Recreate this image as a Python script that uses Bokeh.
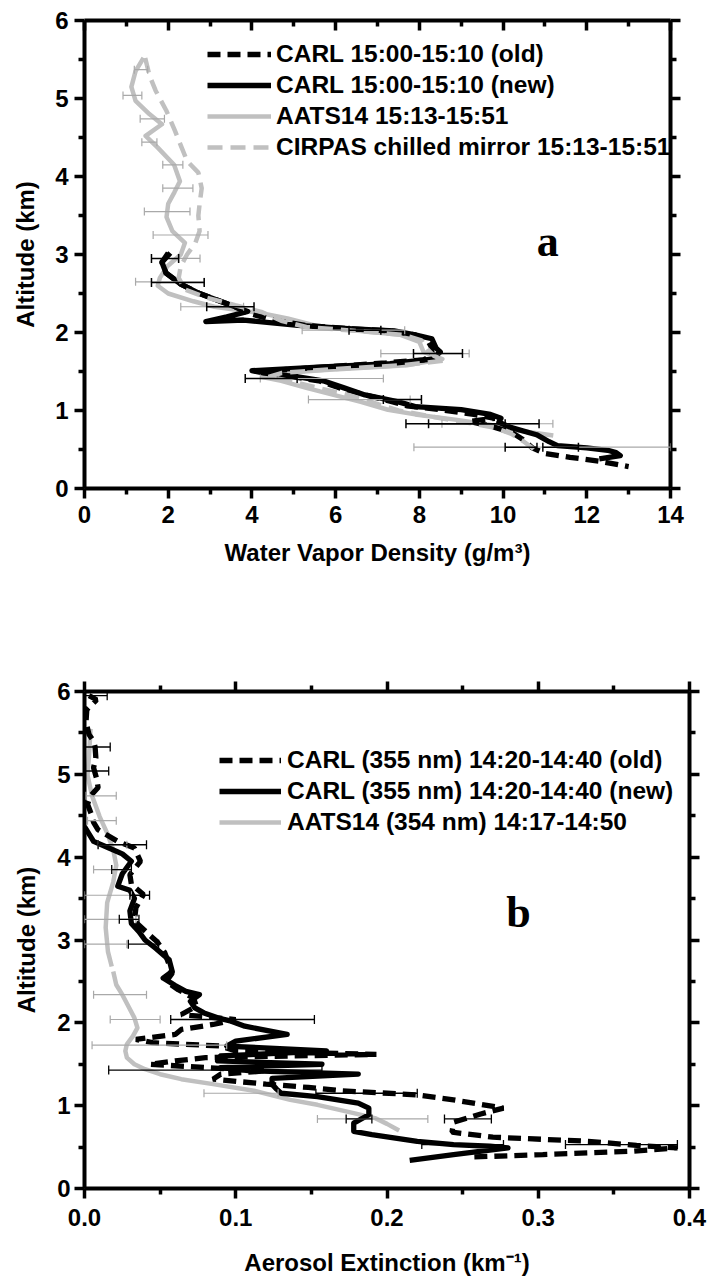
import math
from bokeh.plotting import figure
from bokeh.models import (Range1d, LinearAxis, FixedTicker, NumeralTickFormatter,
                          Whisker, TeeHead, ColumnDataSource, Legend, LegendItem, Label,
                          CustomLabelingPolicy)
from bokeh.layouts import column
from bokeh.embed import file_html
from bokeh.resources import INLINE

NAN = float("nan")
FONT = "Liberation Sans"
SERIF = "Liberation Serif"
GRAY = "#c0c0c0"
EGRAY = "#a9a9a9"

# ---------------- Panel a : water vapor density ----------------
a_old_x = [2.00, 1.85, 1.95, 2.30, 2.75, 3.00, 3.60, 3.90, 4.60, 5.30, 6.30, 7.30, 7.90, 8.20, 8.30,
           8.30, 8.10, 7.20, 5.80, 4.40, 4.50, 5.00, 5.60, 6.10, 6.70, 7.30, 7.70, 8.50, 9.30, 9.80,
           9.20, 9.70, 10.20, 10.50, 10.70, 11.00, 11.60, 12.30, 13.00]
a_old_y = [3.02, 2.90, 2.76, 2.62, 2.50, 2.45, 2.33, 2.25, 2.15, 2.09, 2.05, 2.02, 1.97, 1.90, 1.80,
           1.70, 1.65, 1.61, 1.56, 1.51, 1.47, 1.43, 1.38, 1.29, 1.20, 1.12, 1.06, 1.01, 0.95, 0.90,
           0.86, 0.80, 0.72, 0.62, 0.52, 0.45, 0.40, 0.35, 0.28]

a_new_x = [2.05, 1.85, 1.95, 2.30, 2.75, 3.00, 3.60, 3.90, 3.40, 2.90, 3.80, 5.10, 6.30, 7.40, 7.90,
           8.30, 8.40, 8.50, 8.30, 7.30, 5.70, 4.00, 4.30, 5.10, 5.70, 6.20, 6.70, 7.50, 7.90, 9.00,
           9.70, 9.95, 9.90, 10.20, 10.80, 11.10, 11.30, 12.00, 12.50, 12.70, 12.80, 12.30]
a_new_y = [3.02, 2.90, 2.76, 2.62, 2.50, 2.45, 2.33, 2.27, 2.20, 2.14, 2.16, 2.09, 2.05, 2.02, 1.97,
           1.92, 1.80, 1.75, 1.66, 1.60, 1.56, 1.51, 1.48, 1.43, 1.38, 1.29, 1.20, 1.11, 1.05, 1.01,
           0.95, 0.90, 0.85, 0.78, 0.69, 0.60, 0.55, 0.52, 0.49, 0.46, 0.42, 0.38]

a_aats_x = [1.41, 1.22, 1.12, 1.22, 1.55, 1.85, 1.46, 1.75, 2.14, 2.28, 2.15, 2.00, 1.96, 2.10, 2.40,
            2.30, 1.98, 1.80, 1.75, 2.00, 2.60, 3.10, 4.20, 4.85, 5.50, 6.40, 7.55, 8.00, 8.10, 8.55,
            7.70, 5.75, 4.70, 4.25, 4.70, 5.30, 5.95, 6.60, 7.25, 7.90, 8.90, 9.65, 10.40, 11.20]
a_aats_y = [5.52, 5.35, 5.15, 4.97, 4.80, 4.67, 4.52, 4.37, 4.15, 3.94, 3.80, 3.65, 3.48, 3.30, 3.15,
            3.00, 2.85, 2.70, 2.60, 2.50, 2.40, 2.33, 2.25, 2.18, 2.09, 2.03, 1.97, 1.88, 1.75, 1.66,
            1.58, 1.52, 1.48, 1.43, 1.38, 1.29, 1.20, 1.11, 1.01, 0.95, 0.88, 0.82, 0.74, 0.68]

a_cirpas_x = [1.45, 1.55, 1.70, 1.95, 2.15, 2.30, 2.45, 2.72, 2.80, 2.75, 2.72, 2.75, 2.65, 2.45, 2.30,
              2.25, 2.40, 2.90, 3.60, 4.25, 4.70, 5.30, 6.50, 7.60, 8.05, 8.20, 8.35, 8.60, 7.60, 5.90,
              4.70, 4.40, 4.90, 5.50, 6.30, 6.90, 7.50, 8.30, 9.10, 9.80, 10.20, 10.50, 10.70, 10.80]
a_cirpas_y = [5.52, 5.30, 5.10, 4.85, 4.60, 4.40, 4.20, 4.05, 3.85, 3.65, 3.50, 3.30, 3.15, 3.00, 2.85,
              2.70, 2.55, 2.45, 2.35, 2.26, 2.15, 2.07, 2.02, 1.97, 1.90, 1.78, 1.70, 1.64, 1.58, 1.53,
              1.48, 1.43, 1.38, 1.30, 1.20, 1.10, 1.00, 0.92, 0.85, 0.78, 0.70, 0.60, 0.52, 0.46]

a_err_carl_y = [2.95, 2.64, 2.33, 2.03, 1.73, 1.41, 1.14, 0.83, 0.83, 0.53, 0.53]
a_err_carl_lo = [1.60, 1.60, 2.92, 6.32, 7.86, 3.84, 7.14, 7.68, 8.22, 10.05, 10.95]
a_err_carl_hi = [2.25, 2.86, 4.05, 7.08, 9.03, 5.08, 8.05, 10.86, 10.05, 10.81, 11.80]

a_err_aats_y = [5.37, 5.04, 4.74, 4.44, 4.15, 3.85, 3.55, 3.25, 2.95, 2.65, 2.33, 2.03, 1.73, 1.41,
                1.14, 0.83, 0.53]
a_err_aats_lo = [1.19, 0.92, 1.33, 1.37, 1.87, 1.87, 1.43, 1.64, 2.24, 1.22, 2.30, 5.20, 7.08, 4.20,
                 5.35, 8.54, 7.87]
a_err_aats_hi = [1.51, 1.37, 1.91, 1.73, 2.35, 2.59, 2.52, 2.95, 2.76, 2.86, 3.80, 7.65, 9.19, 7.14,
                 7.78, 11.19, 14.00]

a_labels = ["CARL 15:00-15:10 (old)", "CARL 15:00-15:10 (new)", "AATS14 15:13-15:51",
            "CIRPAS chilled mirror 15:13-15:51"]
a_xticks = [0, 2, 4, 6, 8, 10, 12, 14]
a_xminor = [1, 3, 5, 7, 9, 11, 13]
alt_ticks = [0, 1, 2, 3, 4, 5, 6]
alt_minor = [0.5, 1.5, 2.5, 3.5, 4.5, 5.5]

# ---------------- Panel b : aerosol extinction ----------------
b_aats_x = [0.004, 0.003, 0.002, 0.005, 0.010, 0.015, 0.019, 0.021, 0.019, 0.015, 0.014, 0.0155, 0.018,
            NAN, 0.019, 0.021, 0.025, 0.029, 0.033, 0.035, 0.032, 0.028, 0.027, 0.028, 0.033, 0.040,
            0.050, 0.064, 0.085, 0.112, 0.136, 0.154, 0.178, 0.192, 0.200, 0.208]
b_aats_y = [5.55, 5.23, 4.99, 4.74, 4.49, 4.29, 4.09, 3.90, 3.70, 3.45, 3.15, 2.86, 2.68,
            NAN, 2.62, 2.46, 2.34, 2.20, 2.06, 1.94, 1.84, 1.74, 1.66, 1.58, 1.50, 1.44,
            1.38, 1.32, 1.26, 1.18, 1.07, 1.01, 0.91, 0.85, 0.78, 0.70]

b_new_x = [0.000, 0.006, 0.015, 0.025, 0.031, 0.025, 0.022, 0.030, 0.033, 0.030, 0.031, 0.036, 0.040,
           0.047, 0.056, 0.058, 0.052, 0.060, 0.067, 0.076, 0.070, 0.073, 0.079, 0.088, 0.097, 0.106,
           0.134, 0.100, 0.094, 0.160, 0.090, 0.088, 0.157, 0.090, 0.110, 0.181, 0.124, 0.124, 0.127,
           0.130, 0.154, 0.181, 0.188, 0.188, 0.178, 0.178, 0.190, 0.220, 0.244, 0.268, 0.280, 0.244,
           0.215]
b_new_y = [4.37, 4.19, 4.12, 4.04, 3.95, 3.80, 3.65, 3.60, 3.50, 3.35, 3.20, 3.10, 3.00,
           2.90, 2.76, 2.62, 2.54, 2.45, 2.38, 2.34, 2.26, 2.18, 2.12, 2.06, 2.02, 1.96,
           1.86, 1.78, 1.72, 1.66, 1.60, 1.54, 1.50, 1.46, 1.42, 1.38, 1.33, 1.26, 1.20,
           1.15, 1.11, 1.03, 0.97, 0.89, 0.79, 0.69, 0.65, 0.57, 0.53, 0.51, 0.49, 0.41,
           0.34]

b_old_x = [0.003, 0.008, 0.0015, 0.001, 0.003, 0.006, 0.007, 0.0075, 0.006, 0.008, 0.009, 0.004, 0.002,
           0.0045, 0.006, 0.009, 0.022, 0.033, 0.037, 0.030, 0.031, 0.039, 0.034, 0.033, 0.043, 0.048,
           0.053, 0.056, 0.058, 0.054, 0.062, 0.072, 0.074, 0.064, 0.100, 0.085, 0.064, 0.060, 0.034,
           0.045, 0.090, 0.100, 0.193, 0.080, 0.060, 0.043, 0.080, 0.120, 0.090, 0.085, 0.120, 0.148,
           0.170, 0.220, 0.244, 0.277, 0.262, 0.244, 0.243, 0.270, 0.333, 0.365, 0.392, 0.363, 0.303,
           0.256]
b_old_y = [5.95, 5.90, 5.78, 5.63, 5.48, 5.40, 5.33, 5.20, 5.08, 4.95, 4.84, 4.74, 4.64,
           4.52, 4.42, 4.33, 4.19, 4.11, 3.95, 3.79, 3.67, 3.55, 3.39, 3.23, 3.06, 2.98,
           2.85, 2.70, 2.60, 2.50, 2.40, 2.30, 2.20, 2.10, 2.04, 1.98, 1.92, 1.86, 1.80,
           1.76, 1.72, 1.66, 1.62, 1.58, 1.54, 1.50, 1.46, 1.42, 1.38, 1.32, 1.26, 1.22,
           1.18, 1.13, 1.07, 0.97, 0.90, 0.80, 0.68, 0.62, 0.57, 0.52, 0.49, 0.45, 0.41,
           0.38]

b_err_carl_y = [5.95, 5.33, 5.04, 4.15, 3.85, 3.54, 3.25, 2.95, 2.04, 1.43, 1.15, 0.84, 0.84, 0.53, 0.53]
b_err_carl_lo = [0.000, 0.000, 0.000, 0.009, 0.018, 0.030, 0.023, 0.029, 0.057, 0.016, 0.153, 0.173,
                 0.238, 0.223, 0.318]
b_err_carl_hi = [0.015, 0.017, 0.016, 0.041, 0.031, 0.043, 0.036, 0.049, 0.152, 0.157, 0.220, 0.190,
                 0.269, 0.277, 0.392]

b_err_aats_y = [4.74, 4.44, 4.15, 3.85, 3.54, 3.25, 2.95, 2.34, 2.04, 1.73, 1.15, 0.84]
b_err_aats_lo = [0.001, 0.002, 0.009, 0.006, 0.000, 0.000, 0.000, 0.006, 0.017, 0.005, 0.079, 0.154]
b_err_aats_hi = [0.021, 0.021, 0.028, 0.031, 0.031, 0.034, 0.028, 0.041, 0.050, 0.094, 0.128, 0.227]

b_labels = ["CARL (355 nm) 14:20-14:40 (old)", "CARL (355 nm) 14:20-14:40 (new)",
            "AATS14 (354 nm) 14:17-14:50"]
b_xticks = [0.0, 0.1, 0.2, 0.3, 0.4]
b_xminor = [0.05, 0.15, 0.25, 0.35]

TXT = "24px"


def style_axis(ax, ticks, minor, labels=True, tick_in=False, fmt=None,
               label_standoff=8, title_standoff=10):
    ax.ticker = FixedTicker(ticks=ticks, minor_ticks=minor)
    ax.axis_line_width = 4
    ax.axis_line_color = "black"
    ax.major_tick_line_width = 3.5
    ax.minor_tick_line_width = 3.5
    ax.major_tick_line_color = "black"
    ax.minor_tick_line_color = "black"
    if tick_in:
        ax.major_tick_in, ax.major_tick_out = 10, 0
        ax.minor_tick_in, ax.minor_tick_out = 6, 0
    else:
        ax.major_tick_in, ax.major_tick_out = 0, 10
        ax.minor_tick_in, ax.minor_tick_out = 0, 6
    ax.major_label_text_font = FONT
    ax.major_label_text_font_style = "bold"
    ax.major_label_text_font_size = TXT
    ax.major_label_text_color = "black"
    ax.axis_label_text_font = FONT
    ax.axis_label_text_font_style = "bold"
    ax.axis_label_text_font_size = TXT
    ax.axis_label_text_color = "black"
    ax.major_label_standoff = label_standoff
    ax.axis_label_standoff = title_standoff
    if fmt is not None:
        ax.formatter = fmt
    if not labels:
        ax.major_label_policy = CustomLabelingPolicy(
            code="for (const i of Array.from(indices)) indices.unset(i); return indices;")
        ax.major_label_standoff = 0


def add_err(p, ys, lo, hi, color, width, size):
    src = ColumnDataSource(dict(y=ys, lo=lo, hi=hi))
    w = Whisker(source=src, base="y", lower="lo", upper="hi", dimension="width",
                line_color=color, line_width=width,
                upper_head=TeeHead(size=size, line_color=color, line_width=width),
                lower_head=TeeHead(size=size, line_color=color, line_width=width))
    w.level = "overlay"
    p.add_layout(w)


def make_fig(width, height, xr, yr, bl, br, bt, bb):
    p = figure(width=width, height=height, x_range=Range1d(*xr), y_range=Range1d(*yr),
               x_axis_type=None, y_axis_type=None, output_backend="svg",
               toolbar_location=None, min_border_left=bl, min_border_right=br,
               min_border_top=bt, min_border_bottom=bb)
    p.outline_line_color = None
    p.background_fill_color = "white"
    p.border_fill_color = "white"
    return p


# ---------- figure a ----------
pa = make_fig(696, 651, (0, 14), (0, 6), 80, 20, 18, 163)
ax_b = LinearAxis(axis_label="Water Vapor Density (g/m³)")
style_axis(ax_b, a_xticks, a_xminor, label_standoff=7, title_standoff=13)
pa.add_layout(ax_b, "below")
ax_l = LinearAxis(axis_label="Altitude (km)")
style_axis(ax_l, alt_ticks, alt_minor, label_standoff=6, title_standoff=13)
pa.add_layout(ax_l, "left")
ax_t = LinearAxis()
style_axis(ax_t, a_xticks, a_xminor, labels=False, tick_in=True)
pa.add_layout(ax_t, "above")
ax_r = LinearAxis()
style_axis(ax_r, alt_ticks, alt_minor, labels=False)
pa.add_layout(ax_r, "right")

r_aats = pa.line(a_aats_x, a_aats_y, line_color=GRAY, line_width=4.5, line_join="round")
r_old = pa.line(a_old_x, a_old_y, line_color="black", line_width=5.3, line_dash="13 7")
r_new = pa.line(a_new_x, a_new_y, line_color="black", line_width=5.3, line_join="round")
r_cir = pa.line(a_cirpas_x, a_cirpas_y, line_color=GRAY, line_width=4.5, line_dash="15 8")

add_err(pa, a_err_aats_y, a_err_aats_lo, a_err_aats_hi, EGRAY, 1.2, 8)
add_err(pa, a_err_carl_y, a_err_carl_lo, a_err_carl_hi, "black", 1.5, 9)

leg_a = Legend(items=[LegendItem(label=a_labels[0], renderers=[r_old]),
                      LegendItem(label=a_labels[1], renderers=[r_new]),
                      LegendItem(label=a_labels[2], renderers=[r_aats]),
                      LegendItem(label=a_labels[3], renderers=[r_cir])],
               location=(123, 327), orientation="vertical",
               background_fill_alpha=0, border_line_alpha=0, padding=0, margin=0,
               spacing=3, glyph_width=64, glyph_height=28, label_height=28,
               label_standoff=5, label_text_font=FONT, label_text_font_style="bold",
               label_text_font_size="24.5px", label_text_color="black")
pa.add_layout(leg_a)
pa.add_layout(Label(x=11.07, y=3.17, text="a", text_font=SERIF, text_font_style="bold",
                    text_font_size="44px", text_align="center", text_baseline="alphabetic",
                    text_color="black"))

# ---------- figure b ----------
pb = make_fig(715, 630, (0, 0.4), (0, 6), 84, 13, 40, 93)
bx_b = LinearAxis(axis_label="Aerosol Extinction (km⁻¹)")
style_axis(bx_b, b_xticks, b_xminor, fmt=NumeralTickFormatter(format="0.0"),
           label_standoff=10, title_standoff=20)
pb.add_layout(bx_b, "below")
bx_l = LinearAxis(axis_label="Altitude (km)")
style_axis(bx_l, alt_ticks, alt_minor, label_standoff=4, title_standoff=14)
pb.add_layout(bx_l, "left")
bx_t = LinearAxis()
style_axis(bx_t, b_xticks, b_xminor, labels=False)
pb.add_layout(bx_t, "above")
bx_r = LinearAxis()
style_axis(bx_r, alt_ticks, alt_minor, labels=False)
pb.add_layout(bx_r, "right")

rb_aats = pb.line(b_aats_x, b_aats_y, line_color=GRAY, line_width=4.5, line_join="round")
rb_old = pb.line(b_old_x, b_old_y, line_color="black", line_width=5.3, line_dash="13 7")
rb_new = pb.line(b_new_x, b_new_y, line_color="black", line_width=5.3, line_join="round")

add_err(pb, b_err_aats_y, b_err_aats_lo, b_err_aats_hi, EGRAY, 1.2, 8)
add_err(pb, b_err_carl_y, b_err_carl_lo, b_err_carl_hi, "black", 1.3, 9)

leg_b = Legend(items=[LegendItem(label=b_labels[0], renderers=[rb_old]),
                      LegendItem(label=b_labels[1], renderers=[rb_new]),
                      LegendItem(label=b_labels[2], renderers=[rb_aats])],
               location=(135, 352), orientation="vertical",
               background_fill_alpha=0, border_line_alpha=0, padding=0, margin=0,
               spacing=3, glyph_width=62, glyph_height=28, label_height=28,
               label_standoff=6, label_text_font=FONT, label_text_font_style="bold",
               label_text_font_size="24.5px", label_text_color="black")
pb.add_layout(leg_b)
pb.add_layout(Label(x=0.287, y=3.33, text="b", text_font=SERIF, text_font_style="bold",
                    text_font_size="44px", text_align="center", text_baseline="alphabetic",
                    text_color="black"))

layout = column(pa, pb)
open("out.html", "w").write(file_html(layout, INLINE))
